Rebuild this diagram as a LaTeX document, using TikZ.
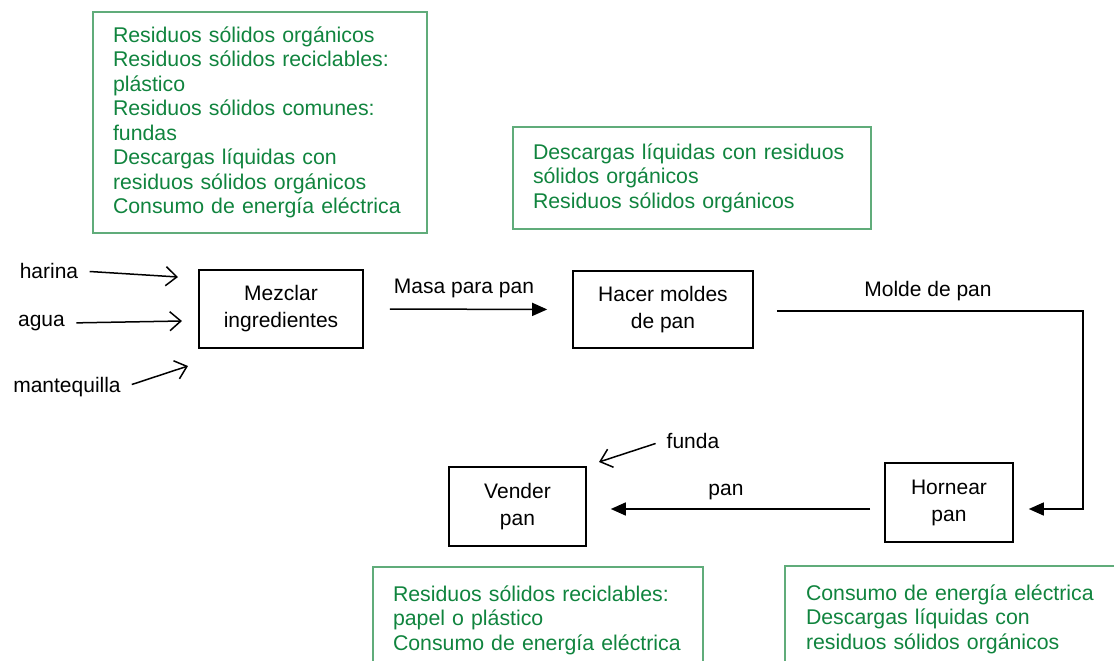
\documentclass[tikz,border=0pt]{standalone}
\usepackage{fontspec}
\setmainfont{Liberation Sans}
\usepackage{tikz}
\usetikzlibrary{arrows.meta}
\definecolor{verdetexto}{RGB}{16,132,62}
\definecolor{verdeborde}{RGB}{96,172,122}

\begin{document}
\begin{tikzpicture}[x=1pt, y=-1pt,
    proceso/.style={draw, line width=1.6pt, align=center, font=\fontsize{21}{27}\selectfont},
    residuos/.style={draw=verdeborde, line width=1.3pt, text=verdetexto, align=left, font=\fontsize{21.3}{24.5}\selectfont},
    flujo/.style={line width=1.5pt, -{Triangle[length=15pt,width=13pt]}},
    entrada/.style={line width=1.5pt, -{Straight Barb[length=11pt,width=19pt]}, shorten <=8pt},
    etiqueta/.style={font=\fontsize{21}{27}\selectfont}]

    % Marco
    \useasboundingbox (0,0) rectangle (1114,661);
    \clip (0,0) rectangle (1114,661);

    % Procesos
    \node[proceso, minimum width=164pt, minimum height=78pt] (mezclar) at (281,309) {Mezclar\\ingredientes};
    \node[proceso, minimum width=180pt, minimum height=77pt] (hacer) at (663,309.5) {Hacer moldes\\de pan};
    \node[proceso, minimum width=128pt, minimum height=79pt] (hornear) at (949,502.5) {Hornear\\pan};
    \node[proceso, minimum width=137pt, minimum height=79pt] (vender) at (517.5,506.5) {Vender\\pan};

    % Entradas
    \node[etiqueta] (harina) at (49,271) {harina};
    \node[etiqueta] (agua) at (41.5,323) {agua};
    \node[etiqueta] (mantequilla) at (67,387) {mantequilla};
    \coordinate (inHarina) at (178,277);
    \coordinate (inAgua) at (182,321);
    \coordinate (inMant) at (188,366);
    \draw[entrada] (harina.east) -- (inHarina);
    \draw[entrada] (agua.east) -- (inAgua);
    \draw[entrada] (mantequilla.east) -- (inMant);

    \node[etiqueta] (funda) at (693,441) {funda};
    \coordinate (inFunda) at (599,462);
    \draw[entrada] (funda.west) -- (inFunda);

    % Flujo del pan
    \draw[flujo, shorten <=26pt, shorten >=25pt] (mezclar.east) -- (hacer.west);
    \node[etiqueta] (lblMasa) at (464,288) {Masa para pan};

    \coordinate (codo) at (1083,311);
    \draw[flujo, shorten <=23pt, shorten >=15pt] (hacer.east |- codo) -- (codo) |- ([yshift=-6.5pt]hornear.east);
    \node[etiqueta] (lblMolde) at (928,291) {Molde de pan};

    \coordinate (nivelPan) at ([yshift=-6.5pt]hornear.west);
    \draw[flujo, shorten <=14pt, shorten >=24pt] (nivelPan) -- (nivelPan -| vender.east);
    \node[etiqueta] (lblPan) at (726,492) {pan};

    % Residuos y consumos
    \node[residuos, text width=294pt, minimum width=334pt, minimum height=221pt] (resMezclar) at (260,122.5)
        {Residuos sólidos orgánicos\\Residuos sólidos reciclables:\\plástico\\Residuos sólidos comunes:\\fundas\\Descargas líquidas con\\residuos sólidos orgánicos\\Consumo de energía eléctrica};
    \node[residuos, text width=318pt, minimum width=358pt, minimum height=102pt] (resHacer) at (692,178)
        {Descargas líquidas con residuos\\sólidos orgánicos\\Residuos sólidos orgánicos};
    \node[residuos, text width=290pt, minimum width=330pt, minimum height=106pt] (resVender) at (538,620)
        {Residuos sólidos reciclables:\\papel o plástico\\Consumo de energía eléctrica};
    \node[residuos, text width=298pt, minimum width=340pt, minimum height=106pt] (resHornear) at (955,619)
        {Consumo de energía eléctrica\\Descargas líquidas con\\residuos sólidos orgánicos};
\end{tikzpicture}
\end{document}
